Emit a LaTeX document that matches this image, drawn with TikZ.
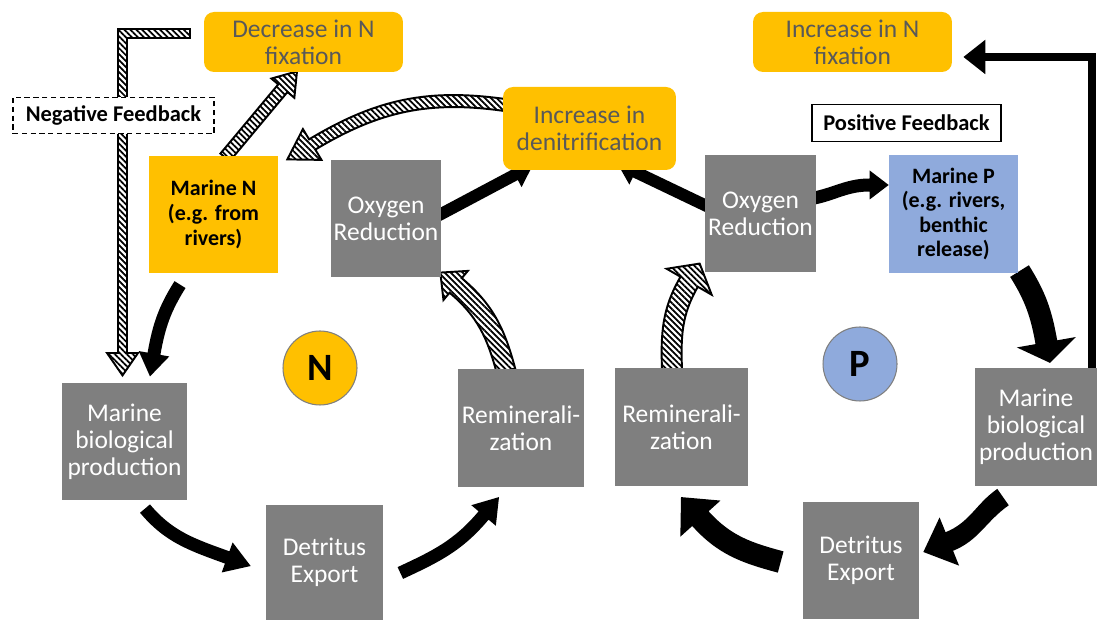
\documentclass[tikz,border=0pt]{standalone}
\usepackage{fontspec}
\setmainfont{Carlito}
\usetikzlibrary{arrows.meta,calc,patterns.meta}

\definecolor{gold}{HTML}{FFC000}
\definecolor{pblue}{HTML}{8FAADC}
\definecolor{boxgray}{HTML}{7F7F7F}
\definecolor{txtgray}{HTML}{595959}

\pgfdeclarelayer{bg}
\pgfsetlayers{bg,main}

% block arrow: [style]{tail}{out}{tip}{back angle}{half width}{head half width}{head length}
\newcommand\blockarrow[8][]{%
  \path #2 coordinate (tl);
  \path #4 coordinate (tp);
  \path (tp) ++(#5:#8) coordinate (hb);
  \path[#1] ($(tl)+(#3+90:#6)$) to[out=#3,in=#5] ($(hb)+(#5-90:#6)$)
    -- ($(hb)+(#5-90:#7)$) -- (tp) -- ($(hb)+(#5+90:#7)$)
    -- ($(hb)+(#5+90:#6)$) to[out=#5,in=#3] ($(tl)+(#3-90:#6)$) -- cycle;
}

\begin{document}
\begin{tikzpicture}[x=0.02cm,y=0.02cm,
  every node/.style={inner sep=0pt, align=center},
  process/.style={fill=boxgray, text=white, minimum height=2.35cm,
    font=\fontsize{14.5}{15.4}\selectfont},
  effect/.style={fill=gold, text=txtgray, rounded corners=0.2cm,
    minimum width=3.98cm, minimum height=1.2cm, font=\fontsize{14.5}{15.4}\selectfont},
  pool/.style={minimum width=2.58cm, minimum height=2.35cm,
    font=\bfseries\fontsize{12.5}{14}\selectfont},
  feedback/.style={draw, fill=white, line width=0.7pt, minimum height=0.73cm,
    font=\bfseries\fontsize{12.8}{14}\selectfont},
  cyclelabel/.style={circle, draw=boxgray, line width=0.6pt, minimum size=1.48cm,
    font=\bfseries\fontsize{22}{22}\selectfont},
  solidarrow/.style={fill=black},
  hatcharrow/.style={preaction={fill=white}, draw=black, line width=1.1pt,
    pattern={Lines[angle=-45,distance=2.4pt,line width=1pt]}}]
\useasboundingbox (0,0) rectangle (1097,621);

% effects
\node[effect] (decN) at (303.5,579) {Decrease in N\\fixation};
\node[effect, minimum width=3.46cm, minimum height=1.66cm] (denit) at (589.5,492.5) {Increase in\\denitrification};
\node[effect] (incN) at (852.5,579) {Increase in N\\fixation};

% feedback labels
\node[feedback, dash pattern=on 3pt off 2pt, minimum width=4.02cm] (negfb) at (113.5,505.5) {Negative Feedback};
\node[feedback, minimum width=3.78cm] (posfb) at (906.5,498) {Positive Feedback};

% nutrient pools
\node[pool, fill=gold] (marN) at (213.5,406.5) {Marine N\\(e.g. from\\rivers)};
\node[pool, fill=pblue] (marP) at (953.5,407) {Marine P\\(e.g. rivers,\\benthic\\release)};

% N cycle
\node[process, minimum width=2.2cm] (oxL) at (386,402.5) {Oxygen\\Reduction};
\node[process, minimum width=2.5cm] (mbpL) at (124.5,179.5) {Marine\\biological\\production};
\node[process, minimum width=2.34cm, minimum height=2.3cm] (detL) at (324.5,58.5) {Detritus\\Export};
\node[process, minimum width=2.52cm] (remL) at (521,193) {Reminerali-\\zation};
\node[cyclelabel, fill=gold] (Nlab) at (320,253) {N};

% P cycle
\node[process, minimum width=2.22cm] (oxR) at (760.5,407.5) {Oxygen\\Reduction};
\node[process, minimum width=2.66cm] (remR) at (681.5,194) {Reminerali-\\zation};
\node[process, minimum width=2.32cm] (detR) at (861,60.5) {Detritus\\Export};
\node[process, minimum width=2.44cm] (mbpR) at (1036,194) {Marine\\biological\\production};
\node[cyclelabel, fill=pblue] (Plab) at (860,257) {P};

\begin{pgfonlayer}{bg}
% N cycle arrows
\blockarrow[solidarrow]{($(marN.south)+(-33.5,-11)$)}{-122}{($(mbpL.north)+(25.5,6)$)}{80}{6.5}{15.5}{23}
\blockarrow[solidarrow]{($(mbpL.south)+(20.5,-8)$)}{-50}{($(detL.west)+(-15,-3.5)$)}{160}{6.5}{16}{25}
\blockarrow[solidarrow]{($(detL.east)+(17,-10.5)$)}{25}{($(remL.south)+(-22,-10)$)}{230}{6.5}{16}{24}
\blockarrow[hatcharrow]{($(remL.north)+(-15,-2)$)}{105}{($(oxL.south east)+(-1,5)$)}{-40}{9.5}{19}{20}
\blockarrow[solidarrow]{($(oxL.east)+(-3,3)$)}{28}{($(denit.south west)+(30,5)$)}{208}{6}{14}{20}
\blockarrow[hatcharrow]{($(denit.west)+(2,23.5)$)}{172}{($(marN.north east)+(9,-4)$)}{31}{6}{18}{29}
\blockarrow[hatcharrow]{($(marN.north)+(11.5,-2)$)}{50}{($(decN.south)+(-6.5,1)$)}{230}{6}{15}{22}
\coordinate (negtip) at ($(mbpL.north)+(-2,7)$);
\path[hatcharrow] (190,592) -- (118,592) -- (118,268) -- (107,268) -- (negtip)
  -- (138,268) -- (127,268) -- (127,583) -- (190,583) -- cycle;

% P cycle arrows
\blockarrow[solidarrow]{($(oxR.west)+(3,7)$)}{154.5}{($(denit.south east)+(-59,7)$)}{-25.5}{6}{14}{20}
\blockarrow[hatcharrow]{($(remR.north)+(-9.5,-2)$)}{92}{($(oxR.south west)+(-5,9)$)}{240}{10}{26}{21}
\blockarrow[solidarrow]{($(oxR.east)+(-2,15.5)$)}{12}{($(marP.west)+(0,29)$)}{180}{6.5}{14.5}{19}
\blockarrow[solidarrow]{($(marP.south)+(66,2)$)}{-58}{($(mbpR.north)+(14,5)$)}{100}{11}{30}{21}
\blockarrow[solidarrow]{($(mbpR.south)+(-33,-11)$)}{-145}{($(detR.east)+(4,8.5)$)}{22}{10}{26}{28}
\blockarrow[solidarrow]{($(detR.west)+(-22,-1.5)$)}{165}{($(remR.south)+(-0.5,-11)$)}{-48}{11}{27}{29}
\draw[line width=0.16cm, line join=miter, -{Triangle[length=0.44cm,width=0.66cm]}]
  ($(mbpR.north)+(56,0)$) |- ($(incN.east)+(11,-15)$);
\end{pgfonlayer}
\end{tikzpicture}
\end{document}
